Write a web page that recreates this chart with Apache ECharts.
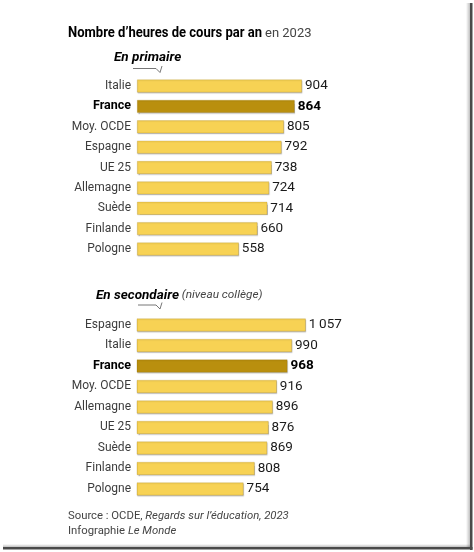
<!DOCTYPE html>
<html>
<head>
<meta charset="utf-8">
<script src="https://cdn.jsdelivr.net/npm/echarts@6/dist/echarts.min.js"></script>
<style>
html,body{margin:0;padding:0;background:#fff;}
#chart{width:474px;height:552px;}
</style>
</head>
<body>
<div id="chart"></div>
<script>
// ---- data ----
const primaryCategories = ['Italie','France','Moy. OCDE','Espagne','UE 25','Allemagne','Suède','Finlande','Pologne'];
const primaryValues = [904, 864, 805, 792, 738, 724, 714, 660, 558];
const secondaryCategories = ['Espagne','Italie','France','Moy. OCDE','Allemagne','UE 25','Suède','Finlande','Pologne'];
const secondaryValues = [1057, 990, 968, 916, 896, 876, 869, 808, 754];
const highlight = 'France';

const titleBold = 'Nombre d\u2019heures de cours par an';
const titleRest = 'en 2023';
const sectionPrimary = 'En primaire';
const sectionSecondary = 'En secondaire';
const sectionSecondaryNote = ' (niveau collège)';

const YELLOW = '#f7d254';
const GOLD = '#b98f0e';
const FONT = 'Roboto, "Liberation Sans", sans-serif';

function seriesData(cats, vals) {
  return vals.map((v, i) => {
    const hi = cats[i] === highlight;
    return {
      value: v,
      itemStyle: { color: hi ? GOLD : YELLOW },
      label: { fontWeight: hi ? 'bold' : 'normal', color: hi ? '#000' : '#1a1a1a' }
    };
  });
}

function fmt(v) {
  const s = String(v);
  return s.length > 3 ? s.slice(0, s.length - 3) + '\u2009' + s.slice(-3) : s;
}

// measure a text width to condense the title to the reference's width
function measure(text, font) {
  const c = document.createElement('canvas').getContext('2d');
  c.font = font;
  return c.measureText(text).width;
}
const titleFont = 'bold 15px Roboto, "Liberation Sans", sans-serif';
const titleScale = 194 / measure(titleBold, titleFont);

const gridLeft = 137, gridWidth = 182.5;

const catAxis = (gi, cats) => ({
  type: 'category', gridIndex: gi, data: cats, inverse: true,
  axisLine: { show: false }, axisTick: { show: false },
  axisLabel: {
    margin: 6, fontFamily: FONT, fontSize: 12, color: '#3c3c3c',
    formatter: (v) => v === highlight ? '{b|' + v + '}' : v,
    rich: { b: { fontWeight: 'bold', color: '#000', fontSize: 12.5, fontFamily: FONT } }
  }
});

const valAxis = (gi, min, max) => ({
  type: 'value', gridIndex: gi, min: min, max: max,
  show: false, splitLine: { show: false }
});

const barSeries = (gi, cats, vals) => ({
  type: 'bar', xAxisIndex: gi, yAxisIndex: gi,
  data: seriesData(cats, vals), barWidth: 13,
  itemStyle: {
    borderColor: 'rgba(150,110,0,0.35)', borderWidth: 0.6,
    shadowColor: 'rgba(0,0,0,0.25)', shadowBlur: 1, shadowOffsetX: 0.5, shadowOffsetY: 1
  },
  label: {
    show: true, position: 'right', distance: 3,
    fontFamily: FONT, fontSize: 13.5,
    formatter: (p) => fmt(p.value)
  },
  silent: true
});

const chart = echarts.init(document.getElementById('chart'), null, { renderer: 'canvas' });
chart.setOption({
  backgroundColor: '#fff',
  animation: false,
  grid: [
    { left: gridLeft, width: gridWidth, top: 75.8, height: 183.4 },
    { left: gridLeft, width: gridWidth, top: 314.7, height: 184.5 }
  ],
  xAxis: [ valAxis(0, 0, 1000), valAxis(1, 235, 1124) ],
  yAxis: [ catAxis(0, primaryCategories), catAxis(1, secondaryCategories) ],
  series: [ barSeries(0, primaryCategories, primaryValues), barSeries(1, secondaryCategories, secondaryValues) ],
  graphic: [
    { type: 'text', x: 68, y: 33.5, scaleX: titleScale, style: {
      text: titleBold, font: titleFont, fill: '#000', verticalAlign: 'middle'
    }},
    { type: 'text', x: 265, y: 34, style: {
      text: titleRest, fontFamily: FONT, fontSize: 13, fill: '#444', verticalAlign: 'middle'
    }},
    { type: 'text', x: 114, y: 58, style: {
      text: sectionPrimary, fontFamily: FONT, fontWeight: 'bold', fontStyle: 'italic', fontSize: 13.5, fill: '#000', verticalAlign: 'middle'
    }},
    { type: 'polyline', shape: { points: [[133, 68.5], [156, 68.5], [160, 72.5], [162, 66]] },
      style: { stroke: '#666', lineWidth: 0.9, fill: null } },
    { type: 'text', x: 96, y: 295.5, style: {
      text: '{b|' + sectionSecondary + '}{n|' + sectionSecondaryNote + '}', verticalAlign: 'middle',
      rich: {
        b: { fontFamily: FONT, fontWeight: 'bold', fontStyle: 'italic', fontSize: 13.5, fill: '#000' },
        n: { fontFamily: FONT, fontStyle: 'italic', fontSize: 11.8, fill: '#444' }
      }
    }},
    { type: 'polyline', shape: { points: [[138, 305], [156, 305], [160, 309], [162, 302.5]] },
      style: { stroke: '#666', lineWidth: 0.9, fill: null } },
    { type: 'text', x: 68, y: 509, style: {
      text: '{r|Source : OCDE, }{i|Regards sur l\u2019éducation, 2023}\n{r|Infographie }{i|Le Monde}',
      lineHeight: 14.5,
      rich: {
        r: { fontFamily: FONT, fontSize: 11.3, fill: '#444', lineHeight: 14.5 },
        i: { fontFamily: FONT, fontSize: 11.3, fontStyle: 'italic', fill: '#444', lineHeight: 14.5 }
      }
    }},
    // frame shadow (right and bottom)
    { type: 'rect', shape: { x: 466, y: 3, width: 4, height: 546 },
      style: { fill: new echarts.graphic.LinearGradient(0, 0, 1, 0, [{offset: 0, color: 'rgba(0,0,0,0)'}, {offset: 1, color: 'rgba(0,0,0,0.25)'}]) } },
    { type: 'rect', shape: { x: 470, y: 3, width: 2.5, height: 547 }, style: { fill: '#4a4a4a' } },
    { type: 'rect', shape: { x: 3, y: 544, width: 467, height: 3 },
      style: { fill: new echarts.graphic.LinearGradient(0, 0, 0, 1, [{offset: 0, color: 'rgba(0,0,0,0)'}, {offset: 1, color: 'rgba(0,0,0,0.25)'}]) } },
    { type: 'rect', shape: { x: 3, y: 547, width: 469.5, height: 2.5 }, style: { fill: '#4a4a4a' } }
  ]
});
</script>
</body>
</html>
